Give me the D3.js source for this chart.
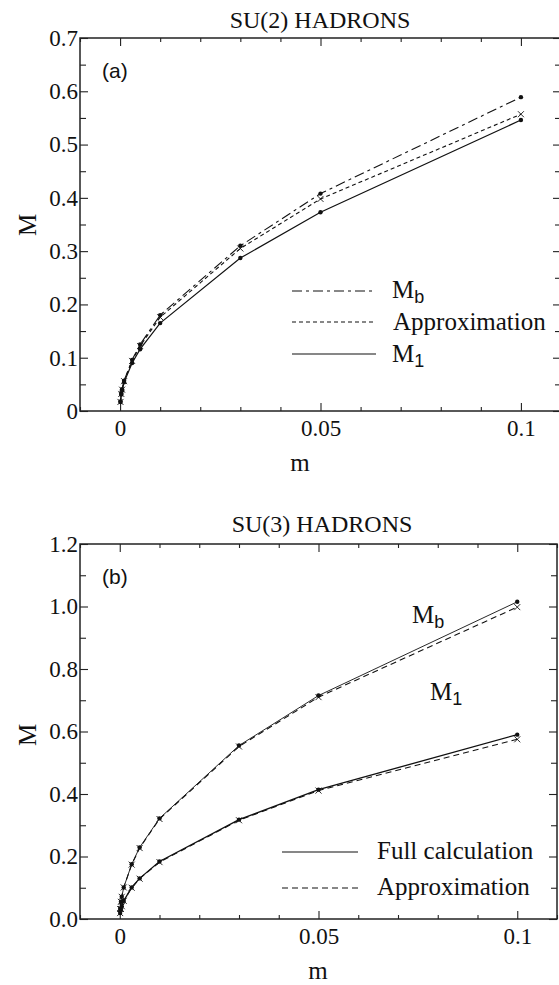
<!DOCTYPE html>
<html>
<head>
<meta charset="utf-8">
<script src="https://cdn.jsdelivr.net/npm/d3@7"></script>
<style>
  body { margin: 0; background: #fff; }
  svg { display: block; }
  .tick text { font-family: "Liberation Serif", "Times New Roman", Times, serif; font-size: 23px; fill: #111; }
  .tick line { stroke: #222; stroke-width: 1.1; }
  .serif { font-family: "Liberation Serif", "Times New Roman", Times, serif; fill: #111; }
  .sans { font-family: "Liberation Sans", Arial, sans-serif; fill: #111; }
</style>
</head>
<body>
<script>
// quark mass values (same for both panels)
var mVals = [0.0001, 0.0003, 0.0005, 0.001, 0.003, 0.005, 0.01, 0.03, 0.05, 0.1];

// (a) SU(2)
var su2Mb     = [0.018, 0.033, 0.041, 0.057, 0.096, 0.125, 0.180, 0.310, 0.408, 0.589];
var su2Approx = [0.017, 0.032, 0.040, 0.056, 0.094, 0.122, 0.176, 0.305, 0.398, 0.557];
var su2M1     = [0.017, 0.031, 0.039, 0.054, 0.090, 0.116, 0.165, 0.287, 0.373, 0.546];

// (b) SU(3)
var su3MbFull    = [0.032, 0.055, 0.071, 0.101, 0.175, 0.229, 0.322, 0.555, 0.715, 1.015];
var su3MbApprox  = [0.032, 0.055, 0.071, 0.101, 0.174, 0.227, 0.320, 0.552, 0.710, 0.998];
var su3M1Full    = [0.019, 0.032, 0.041, 0.058, 0.101, 0.130, 0.184, 0.318, 0.414, 0.590];
var su3M1Approx  = [0.019, 0.032, 0.041, 0.058, 0.100, 0.129, 0.182, 0.316, 0.411, 0.575];

// ticks
var xMajor = [0, 0.05, 0.1];
var xLabels = ["0", "0.05", "0.1"];
var xMinor = [-0.01, 0.01, 0.02, 0.03, 0.04, 0.06, 0.07, 0.08, 0.09, 0.11];
var yMajorA = [0, 0.1, 0.2, 0.3, 0.4, 0.5, 0.6, 0.7];
var yLabelsA = ["0", "0.1", "0.2", "0.3", "0.4", "0.5", "0.6", "0.7"];
var yMinorA = [0.05, 0.15, 0.25, 0.35, 0.45, 0.55, 0.65];
var yMajorB = [0, 0.2, 0.4, 0.6, 0.8, 1.0, 1.2];
var yLabelsB = ["0.0", "0.2", "0.4", "0.6", "0.8", "1.0", "1.2"];
var yMinorB = [0.1, 0.3, 0.5, 0.7, 0.9, 1.1];

var W = 559, H = 985;
var svg = d3.select("body").append("svg").attr("width", W).attr("height", H);

function zip(ys) { return mVals.map(function(m, i) { return [m, ys[i]]; }); }

function panel(opt) {
    var x = d3.scaleLinear().domain([-0.01, 0.11]).range([opt.left, opt.right]);
    var y = d3.scaleLinear().domain([0, opt.yMax]).range([opt.bottom, opt.top]);
    var g = svg.append("g");

    function ax(gen, tr, vals, size, fmt) {
        var a = g.append("g").attr("transform", tr)
            .call(gen.tickValues(vals).tickSize(size).tickPadding(fmt ? 5 : 0)
                .tickFormat(fmt ? function(d, i) { return fmt[i]; } : ""));
        a.select(".domain").remove();
        a.attr("font-family", null).attr("font-size", null);
        return a;
    }
    // bottom
    var bx = ax(d3.axisBottom(x), "translate(0," + opt.bottom + ")", xMajor, -8, xLabels);
    bx.selectAll("text").attr("dy", "0.85em");
    ax(d3.axisBottom(x), "translate(0," + opt.bottom + ")", xMinor, -4, null);
    // top
    ax(d3.axisTop(x), "translate(0," + opt.top + ")", xMajor, -8, null);
    ax(d3.axisTop(x), "translate(0," + opt.top + ")", xMinor, -4, null);
    // left
    var ly = ax(d3.axisLeft(y), "translate(" + opt.left + ",0)", opt.yMajor, -8, opt.yLabels);
    ly.selectAll("text").attr("x", -2);
    ax(d3.axisLeft(y), "translate(" + opt.left + ",0)", opt.yMinor, -6, null);
    // right
    ax(d3.axisRight(y), "translate(" + opt.right + ",0)", opt.yMajor, -8, null);
    ax(d3.axisRight(y), "translate(" + opt.right + ",0)", opt.yMinor, -6, null);

    // frame
    g.append("rect")
        .attr("x", opt.left).attr("y", opt.top)
        .attr("width", opt.right - opt.left).attr("height", opt.bottom - opt.top)
        .style("fill", "none").style("stroke", "#222").style("stroke-width", 1.5);

    var line = d3.line().x(function(d) { return x(d[0]); }).y(function(d) { return y(d[1]); });

    opt.series.forEach(function(s) {
        var pts = zip(s.values);
        g.append("path").datum(pts)
            .attr("d", line)
            .style("fill", "none").style("stroke", "#111")
            .style("stroke-width", s.width || 1.1)
            .style("stroke-dasharray", s.dash || null);
        if (s.marker === "dot") {
            g.selectAll(null).data(pts).enter().append("circle")
                .attr("cx", function(d) { return x(d[0]); })
                .attr("cy", function(d) { return y(d[1]); })
                .attr("r", 2.2).style("fill", "#111");
        } else {
            g.selectAll(null).data(pts).enter().append("path")
                .attr("transform", function(d) { return "translate(" + x(d[0]) + "," + y(d[1]) + ")"; })
                .attr("d", "M-3,-3L3,3M-3,3L3,-3")
                .style("stroke", "#111").style("stroke-width", 0.9);
        }
    });

    // titles and axis labels
    svg.append("text").attr("class", "serif")
        .attr("x", opt.titleX).attr("y", opt.titleY)
        .attr("text-anchor", "middle").style("font-size", "24px")
        .text(opt.title);
    svg.append("text").attr("class", "sans")
        .attr("x", opt.left + 22).attr("y", opt.top + 40)
        .style("font-size", "21px").text(opt.tag);
    svg.append("text").attr("class", "serif")
        .attr("transform", "translate(36," + opt.yLabelY + ") rotate(-90)")
        .attr("text-anchor", "middle").style("font-size", "25px").text("M");
    svg.append("text").attr("class", "serif")
        .attr("x", opt.mX).attr("y", opt.bottom + 60)
        .attr("text-anchor", "middle").style("font-size", "25px").text("m");
    return { x: x, y: y };
}

function mLabel(px, py, sub) {
    var t = svg.append("text").attr("x", px).attr("y", py);
    t.append("tspan").attr("class", "serif").style("font-size", "25px").text("M");
    t.append("tspan").attr("class", "sans").attr("dy", 5).style("font-size", "18px").text(sub);
}

// ---- panel (a)
panel({
    left: 80, right: 561, top: 38, bottom: 411, yMax: 0.7,
    yMajor: yMajorA, yLabels: yLabelsA, yMinor: yMinorA,
    title: "SU(2) HADRONS", titleX: 320, titleY: 28, tag: "(a)",
    yLabelY: 225, mX: 300,
    series: [
        { values: su2Mb, dash: "10,4,3,4", marker: "dot" },
        { values: su2Approx, dash: "4,3", marker: "cross" },
        { values: su2M1, marker: "dot", width: 1.2 }
    ]
});

// legend (a)
var legA = [
    { y: 291, dash: "10,4,3,4" },
    { y: 322, dash: "4,3" },
    { y: 354, dash: null }
];
legA.forEach(function(d) {
    svg.append("line").attr("x1", 292).attr("x2", 376).attr("y1", d.y).attr("y2", d.y)
        .style("stroke", "#111").style("stroke-width", 1.1)
        .style("stroke-dasharray", d.dash);
});
mLabel(392, 298, "b");
svg.append("text").attr("class", "serif").attr("x", 393).attr("y", 330)
    .style("font-size", "25px").text("Approximation");
mLabel(392, 362, "1");

// ---- panel (b)
panel({
    left: 80, right: 557, top: 544, bottom: 919, yMax: 1.2,
    yMajor: yMajorB, yLabels: yLabelsB, yMinor: yMinorB,
    title: "SU(3) HADRONS", titleX: 322, titleY: 532, tag: "(b)",
    yLabelY: 735, mX: 318,
    series: [
        { values: su3MbApprox, dash: "6,4", marker: "cross" },
        { values: su3MbFull, marker: "dot", width: 0.9 },
        { values: su3M1Approx, dash: "6,4", marker: "cross" },
        { values: su3M1Full, marker: "dot", width: 1.3 }
    ]
});

mLabel(412, 623, "b");
mLabel(430, 700, "1");

// legend (b)
svg.append("line").attr("x1", 282).attr("x2", 358).attr("y1", 852).attr("y2", 852)
    .style("stroke", "#111").style("stroke-width", 1.1);
svg.append("line").attr("x1", 282).attr("x2", 358).attr("y1", 888).attr("y2", 888)
    .style("stroke", "#111").style("stroke-width", 1.1).style("stroke-dasharray", "6,4");
svg.append("text").attr("class", "serif").attr("x", 377).attr("y", 859)
    .style("font-size", "25px").text("Full calculation");
svg.append("text").attr("class", "serif").attr("x", 377).attr("y", 895)
    .style("font-size", "25px").text("Approximation");
</script>
</body>
</html>
